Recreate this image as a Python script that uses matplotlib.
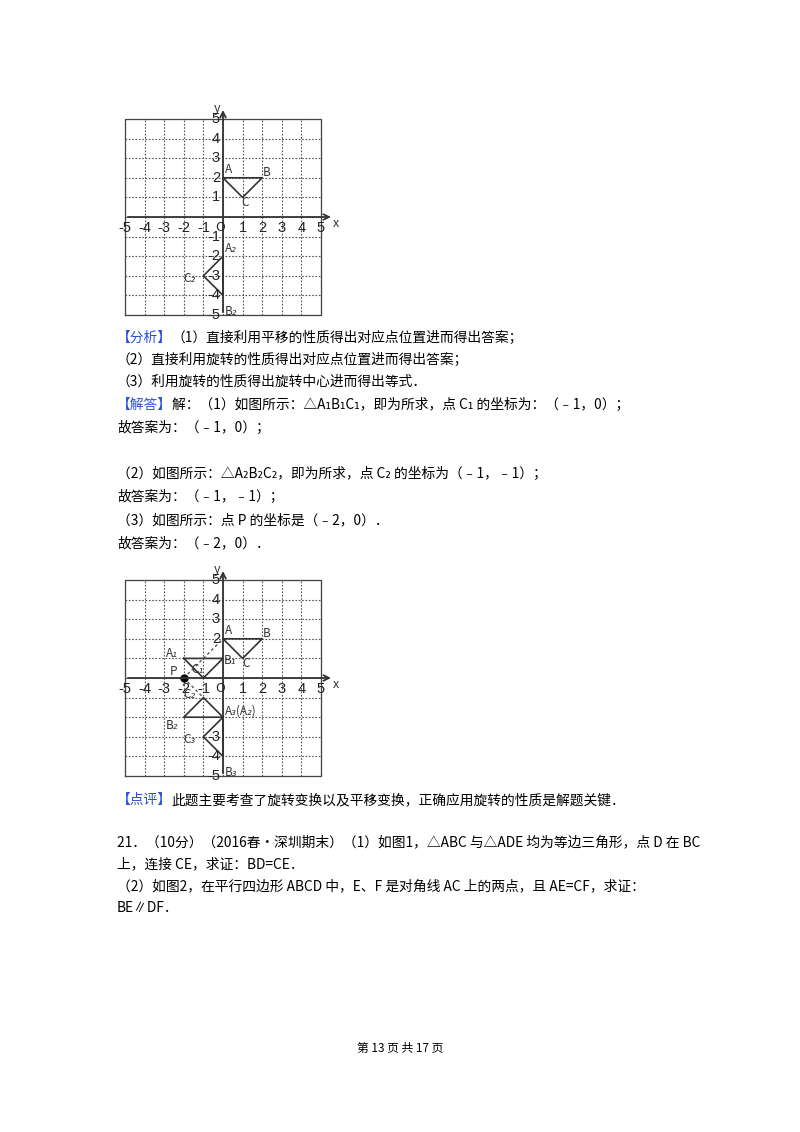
import matplotlib.pyplot as plt

plt.rcParams['font.family'] = ['Noto Sans CJK SC', 'DejaVu Sans']

W, H = 800, 1132
U = 19.6  # pixels per unit on the grids

# triangles (vertex coordinates)
tri_ABC = [(0, 2), (2, 2), (1, 1)]
tri_top2 = [(0, -2), (0, -4), (-1, -3)]
tri_A1B1C1 = [(-2, 1), (0, 1), (-1, 0)]
tri_A2B2C2 = [(0, -2), (-2, -2), (-1, -1)]
tri_A3B3C3 = [(0, -2), (0, -4), (-1, -3)]
point_P = (-2, 0)

labels_top = [("A", 0.1, 2.25), ("B", 2.05, 2.1), ("C", 0.95, 0.55),
              ("A₂", 0.1, -1.8), ("C₂", -2.0, -3.3), ("B₂", 0.1, -5.0)]
labels_bot = [("A", 0.1, 2.25), ("B", 2.05, 2.1), ("C", 1.0, 0.55),
              ("A₁", -2.9, 1.05), ("B₁", 0.05, 0.7), ("C₁", -1.6, 0.25),
              ("P", -2.7, 0.15), ("C₂", -2.0, -1.0), ("B₂", -2.9, -2.6),
              ("A₃(A₂)", 0.1, -1.85), ("C₃", -2.0, -3.3), ("B₃", 0.1, -5.0)]

fig = plt.figure(figsize=(W / 100, H / 100), dpi=100)


def grid_axes(ox, oy):
    x0, x1, y0, y1 = -5.3, 6.0, -5.4, 6.0
    left = ox + x0 * U
    top = oy - y1 * U
    ax = fig.add_axes([left / W, 1 - (top + (y1 - y0) * U) / H,
                       (x1 - x0) * U / W, (y1 - y0) * U / H])
    ax.set_xlim(x0, x1)
    ax.set_ylim(y0, y1)
    ax.axis('off')
    for x in range(-5, 6):
        ax.plot([x, x], [-5, 5], ls=(0, (1.5, 1.5)), color='#555555', lw=0.8)
    for y in range(-5, 6):
        ax.plot([-5, 5], [y, y], ls=(0, (1.5, 1.5)), color='#555555', lw=0.8)
    ax.plot([-5, 5, 5, -5, -5], [-5, -5, 5, 5, -5], color='#444444', lw=0.9)
    ax.annotate('', xy=(5.65, 0), xytext=(-5, 0),
                arrowprops=dict(arrowstyle='->', lw=1.3, color='#333333'))
    ax.annotate('', xy=(0, 5.6), xytext=(0, -5),
                arrowprops=dict(arrowstyle='->', lw=1.3, color='#333333'))
    ax.text(5.6, -0.5, 'x', fontsize=9, style='italic', color='#333333')
    ax.text(-0.45, 5.35, 'y', fontsize=9, style='italic', color='#333333')
    for x in [-5, -4, -3, -2, -1, 1, 2, 3, 4, 5]:
        ax.text(x, -0.2, str(x), fontsize=10.5, ha='center', va='top',
                family='Liberation Sans', color='#222222')
    ax.text(-0.4, -0.2, 'O', fontsize=9.5, ha='left', va='top',
            style='italic', color='#222222')
    return ax


def draw_tri(ax, pts):
    xs = [p[0] for p in pts] + [pts[0][0]]
    ys = [p[1] for p in pts] + [pts[0][1]]
    ax.plot(xs, ys, color='#333333', lw=1.2)


ax1 = grid_axes(223, 217)
for y in [5, 4, 3, 2, 1, -1, -2, -3, -4, -5]:
    ax1.text(-0.15, y, str(y), fontsize=10.5, ha='right', va='center',
             family='Liberation Sans', color='#222222')
draw_tri(ax1, tri_ABC)
draw_tri(ax1, tri_top2)
for t, x, y in labels_top:
    ax1.text(x, y, t, fontsize=8.5, style='italic', color='#333333')

ax2 = grid_axes(223, 678)
for y in [5, 4, 3, 2, -3, -4, -5]:
    ax2.text(-0.15, y, str(y), fontsize=10.5, ha='right', va='center',
             family='Liberation Sans', color='#222222')
draw_tri(ax2, tri_ABC)
draw_tri(ax2, tri_A1B1C1)
draw_tri(ax2, tri_A2B2C2)
draw_tri(ax2, tri_A3B3C3)
ax2.plot([point_P[0], 0], [point_P[1], 2], ls=(0, (2, 2)), color='#555555', lw=1)
ax2.plot([point_P[0], -1], [point_P[1], -1], ls=(0, (2, 2)), color='#555555', lw=1)
ax2.plot([point_P[0]], [point_P[1]], 'o', color='black', ms=5)
for t, x, y in labels_bot:
    ax2.text(x, y, t, fontsize=8.5, style='italic', color='#333333')

FS = 9.9
CW = 13.7
BLUE = '#2a4fd6'


def line(y, text, tag=None):
    x = 117
    if tag:
        fig.text(x / W, 1 - y / H, tag, fontsize=FS, color=BLUE, va='center')
        x += CW * len(tag)
    fig.text(x / W, 1 - y / H, text, fontsize=FS, color='black', va='center')


line(338, '（1）直接利用平移的性质得出对应点位置进而得出答案；', '【分析】')
line(360, '（2）直接利用旋转的性质得出对应点位置进而得出答案；')
line(382, '（3）利用旋转的性质得出旋转中心进而得出等式．')
line(405, '解：（1）如图所示：△A₁B₁C₁，即为所求，点 C₁ 的坐标为：（﹣1，0）；', '【解答】')
line(428, '故答案为：（﹣1，0）；')
line(474, '（2）如图所示：△A₂B₂C₂，即为所求，点 C₂ 的坐标为（﹣1，﹣1）；')
line(497, '故答案为：（﹣1，﹣1）；')
line(520, '（3）如图所示：点 P 的坐标是（﹣2，0）．')
line(543, '故答案为：（﹣2，0）．')
line(800, '此题主要考查了旋转变换以及平移变换，正确应用旋转的性质是解题关键．', '【点评】')
line(842, '21．（10分）（2016春•深圳期末）（1）如图1，△ABC 与△ADE 均为等边三角形，点 D 在 BC')
line(864, '上，连接 CE，求证：BD=CE．')
line(886, '（2）如图2，在平行四边形 ABCD 中，E、F 是对角线 AC 上的两点，且 AE=CF，求证：')
line(908, 'BE∥DF．')
fig.text(0.5, 1 - 1048 / H, '第 13 页 共 17 页', fontsize=8.5, ha='center', va='center')

fig.savefig('out.png', dpi=100, facecolor='white')
